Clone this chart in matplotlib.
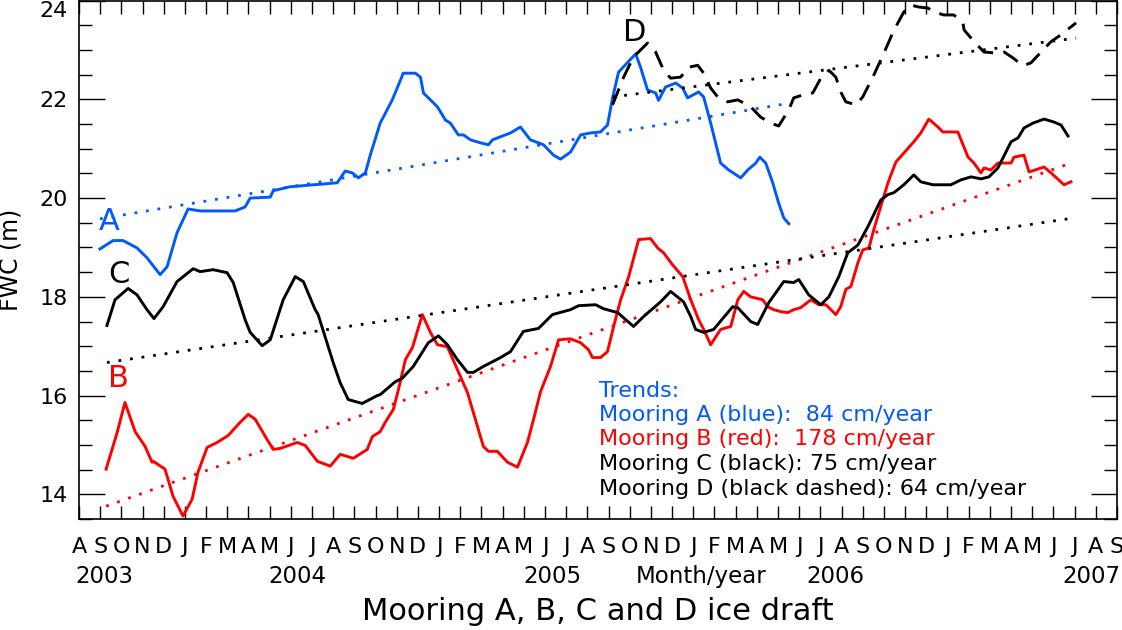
import matplotlib
matplotlib.use('Agg')
import matplotlib.pyplot as plt
import numpy as np

# x = months since Aug 2003, y = FWC (m)
a_x = [0.99, 1.61, 2.08, 2.74, 3.21, 3.83, 4.16, 4.63, 5.15, 5.72, 7.37, 7.84, 8.08, 9.03, 9.17,
       9.97, 12.19, 12.57, 12.90, 13.19, 13.52, 13.75, 14.22, 14.79, 15.31, 15.55, 15.88, 16.12,
       16.26, 16.92, 17.30, 17.53, 17.91, 18.15, 18.48, 18.95, 19.33, 19.52, 20.37, 20.84, 21.31,
       21.93, 22.40, 22.73, 23.20, 23.68, 24.15, 24.62, 24.95, 25.19, 25.47, 25.90, 26.28, 26.51,
       26.84, 27.22, 27.36, 27.69, 28.17, 28.50, 28.73, 29.25, 29.49, 29.82, 30.29, 30.67, 31.24,
       31.57, 31.95, 32.14, 32.42, 32.75, 33.03, 33.27, 33.51]
a_y = [18.97, 19.14, 19.14, 18.99, 18.79, 18.45, 18.61, 19.30, 19.78, 19.74, 19.74, 19.82, 20.00,
       20.02, 20.15, 20.23, 20.31, 20.55, 20.51, 20.41, 20.51, 20.87, 21.52, 21.99, 22.53, 22.53,
       22.53, 22.45, 22.13, 21.85, 21.58, 21.52, 21.28, 21.28, 21.18, 21.12, 21.08, 21.18, 21.32,
       21.44, 21.18, 21.08, 20.87, 20.79, 20.93, 21.28, 21.32, 21.34, 21.48, 22.03, 22.55, 22.75,
       22.92, 22.65, 22.19, 22.13, 21.98, 22.25, 22.33, 22.23, 22.03, 22.15, 22.05, 21.52, 20.71,
       20.57, 20.41, 20.57, 20.71, 20.83, 20.71, 20.31, 19.90, 19.60, 19.48]

b_x = [1.28, 1.80, 2.17, 2.65, 3.12, 3.45, 3.50, 4.06, 4.44, 4.91, 5.34, 5.62, 6.05, 6.52, 7.04,
       7.61, 7.99, 8.32, 8.88, 9.17, 9.50, 10.30, 10.68, 11.25, 11.86, 12.33, 12.95, 13.61, 13.85,
       14.22, 14.46, 14.84, 15.08, 15.41, 15.74, 16.21, 16.59, 16.92, 17.39, 17.86, 18.34, 19.09,
       19.33, 19.75, 20.23, 20.70, 21.17, 21.46, 21.79, 22.26, 22.64, 23.20, 23.68, 24.05, 24.24,
       24.62, 24.95, 25.24, 25.57, 25.95, 26.42, 26.98, 27.32, 27.60, 28.02, 28.50, 28.88, 29.25,
       29.49, 29.82, 30.29, 30.77, 31.10, 31.38, 31.71, 32.28, 32.51, 32.80, 33.13, 33.46, 33.74,
       34.07, 34.55, 34.92, 35.26, 35.73, 35.96, 36.20, 36.44, 36.77, 37.00, 37.29, 37.52, 37.85,
       38.19, 38.56, 39.41, 39.74, 40.12, 40.55, 40.78, 41.49, 41.97, 42.25, 42.58, 42.72, 43.05,
       43.38, 44.00, 44.14, 44.61, 44.85, 45.56, 45.89, 46.50, 46.83]
b_y = [14.51, 15.25, 15.86, 15.27, 14.97, 14.65, 14.67, 14.51, 13.96, 13.56, 13.90, 14.45, 14.95,
       15.05, 15.19, 15.46, 15.62, 15.52, 15.11, 14.91, 14.93, 15.05, 14.99, 14.67, 14.57, 14.81,
       14.73, 14.91, 15.17, 15.27, 15.46, 15.72, 16.12, 16.73, 16.97, 17.64, 17.28, 17.03, 16.99,
       16.53, 16.06, 14.97, 14.87, 14.87, 14.65, 14.55, 15.05, 15.52, 16.08, 16.59, 17.13, 17.15,
       17.07, 16.93, 16.77, 16.77, 16.89, 17.40, 17.94, 18.41, 19.16, 19.18, 18.99, 18.89, 18.65,
       18.41, 17.94, 17.54, 17.34, 17.03, 17.34, 17.40, 17.94, 18.11, 18.00, 17.94, 17.80, 17.74,
       17.70, 17.68, 17.74, 17.78, 17.94, 17.84, 17.84, 17.64, 17.80, 18.15, 18.21, 18.69, 18.95,
       18.99, 19.36, 19.83, 20.31, 20.73, 21.14, 21.32, 21.60, 21.44, 21.34, 21.34, 20.83, 20.71,
       20.51, 20.61, 20.57, 20.71, 20.71, 20.83, 20.87, 20.53, 20.63, 20.51, 20.27, 20.33]

c_x = [1.32, 1.70, 2.32, 2.74, 3.21, 3.54, 3.97, 4.63, 5.39, 5.72, 6.33, 6.99, 7.28, 7.84, 8.08,
       8.65, 9.03, 9.64, 10.21, 10.59, 11.15, 11.29, 12.00, 12.33, 12.71, 13.37, 14.08, 14.22,
       14.93, 15.26, 15.78, 16.49, 16.97, 17.39, 17.86, 18.34, 18.62, 19.09, 19.90, 20.37, 20.98,
       21.69, 22.35, 23.20, 23.58, 24.39, 24.76, 25.43, 26.18, 26.65, 27.46, 27.93, 28.54, 28.88,
       29.11, 29.49, 29.96, 30.86, 31.10, 31.71, 32.04, 32.56, 33.27, 33.74, 33.98, 34.45, 35.02,
       35.40, 35.87, 36.29, 36.77, 37.24, 37.85, 38.18, 38.47, 38.94, 39.41, 39.74, 40.31, 41.16,
       41.64, 42.11, 42.58, 42.96, 43.38, 44.00, 44.33, 44.61, 45.04, 45.56, 46.03, 46.36, 46.69]
c_y = [17.42, 17.94, 18.17, 18.04, 17.74, 17.56, 17.80, 18.31, 18.57, 18.51, 18.55, 18.49, 18.29,
       17.54, 17.28, 17.01, 17.13, 17.94, 18.41, 18.31, 17.74, 17.64, 16.67, 16.26, 15.92, 15.84,
       16.00, 16.02, 16.28, 16.35, 16.59, 17.07, 17.21, 17.03, 16.73, 16.47, 16.47, 16.59, 16.77,
       16.89, 17.30, 17.36, 17.64, 17.74, 17.82, 17.84, 17.76, 17.68, 17.40, 17.60, 17.90, 18.11,
       17.90, 17.60, 17.34, 17.28, 17.34, 17.80, 17.78, 17.50, 17.44, 17.88, 18.31, 18.29, 18.35,
       18.04, 17.84, 18.00, 18.41, 18.89, 19.05, 19.42, 19.96, 20.07, 20.11, 20.27, 20.47, 20.33,
       20.27, 20.27, 20.37, 20.43, 20.39, 20.43, 20.61, 21.14, 21.22, 21.42, 21.52, 21.60, 21.54,
       21.48, 21.26]

d_x = [25.19, 25.71, 26.18, 26.84, 27.22, 27.60, 27.93, 28.40, 28.78, 29.21, 29.49, 29.82, 30.15,
       30.62, 31.10, 31.71, 32.18, 32.66, 33.03, 33.51, 33.74, 34.17, 34.64, 35.02, 35.40, 35.73,
       35.96, 36.20, 36.67, 37.00, 37.52, 38.00, 38.47, 38.94, 39.27, 39.65, 40.08, 40.36, 40.83,
       41.30, 41.73, 41.78, 42.25, 42.72, 43.19, 43.67, 44.09, 44.56, 44.94, 45.42, 45.89, 46.36,
       47.07]
d_y = [21.89, 22.45, 22.86, 23.14, 22.96, 22.59, 22.43, 22.45, 22.65, 22.69, 22.53, 22.23, 22.05,
       21.95, 21.99, 21.85, 21.64, 21.52, 21.46, 21.79, 22.03, 22.09, 22.13, 22.43, 22.59, 22.45,
       22.15, 21.95, 21.89, 22.05, 22.49, 22.94, 23.40, 23.77, 23.91, 23.87, 23.85, 23.77, 23.71,
       23.71, 23.55, 23.41, 23.17, 22.96, 22.94, 22.96, 22.84, 22.68, 22.74, 22.96, 23.17, 23.31,
       23.55]

# trend line end values (A, B, C, D)
trend_start = [19.58, 13.76, 16.67, 22.05]
trend_end = [21.92, 20.71, 19.58, 23.24]
trend_text = ['Mooring A (blue):  84 cm/year', 'Mooring B (red):  178 cm/year',
              'Mooring C (black): 75 cm/year', 'Mooring D (black dashed): 64 cm/year']

month_letters = 'JFMAMJJASOND'
month_labels = [month_letters[(7 + i) % 12] for i in range(50)]
year_labels = ['2003', '2004', '2005', 'Month/year', '2006', '2007']
year_pos = [1.18, 10.30, 22.35, 29.35, 35.73, 47.78]

blue = '#0058ff'
red = '#ff0000'

plt.rcParams['font.family'] = ['DejaVu Sans']
fig = plt.figure(figsize=(11.22, 6.3), dpi=100)
ax = fig.add_axes([0.0704, 0.1762, 0.9251, 0.8228])

series = [(a_x, a_y, blue, '-'), (b_x, b_y, red, '-'), (c_x, c_y, 'k', '-'),
          (d_x, d_y, 'k', (0, (6, 3.5)))]
for i, (xs, ys, col, ls) in enumerate(series):
    ax.plot([xs[0], xs[-1]], [trend_start[i], trend_end[i]], color=col, lw=2,
            linestyle=(0, (1, 3.2)))
    ax.plot(xs, ys, color=col, lw=2.1, linestyle=ls)

ax.set_xlim(0, 49)
ax.set_ylim(13.5, 24)
ax.set_xticks(np.arange(50))
ax.set_xticklabels(month_labels)
ax.set_yticks(np.arange(14, 25, 2))
ax.set_yticks(np.arange(13.5, 24.01, 0.5), minor=True)
ax.tick_params(axis='x', which='both', direction='in', top=True, length=9.4, width=1,
               labelsize=16, pad=13)
ax.tick_params(axis='y', which='major', direction='in', right=True, length=18.7, width=1,
               labelsize=16, pad=8)
ax.tick_params(axis='y', which='minor', direction='in', right=True, length=9.4, width=1)
ax.set_yticklabels([str(v) for v in range(14, 25, 2)])
ax.get_yticklabels()[-1].set_verticalalignment('top')
for s in ax.spines.values():
    s.set_linewidth(1.2)

tr = ax.get_xaxis_transform()
for lab, xp in zip(year_labels, year_pos):
    ax.text(xp, -0.110, lab, transform=tr, ha='center', va='center', fontsize=16.5)
ax.text(0.5, -0.178, 'Mooring A, B, C and D ice draft', transform=ax.transAxes,
        ha='center', va='center', fontsize=22)
ax.set_ylabel('FWC (m)', fontsize=17, labelpad=12)

ax.text(1.42, 19.52, 'A', color=blue, fontsize=22, ha='center', va='center')
ax.text(1.84, 16.34, 'B', color=red, fontsize=22, ha='center', va='center')
ax.text(1.89, 18.45, 'C', color='k', fontsize=22, ha='center', va='center')
ax.text(26.23, 23.36, 'D', color='k', fontsize=22, ha='center', va='center')

ax.text(24.53, 15.98, 'Trends:', color=blue, fontsize=16, va='baseline')
text_y = [15.49, 14.99, 14.50, 13.99]
text_col = [blue, red, 'k', 'k']
for t, yy, col in zip(trend_text, text_y, text_col):
    ax.text(24.53, yy, t, color=col, fontsize=16, va='baseline')

fig.savefig('out.png', dpi=100)
